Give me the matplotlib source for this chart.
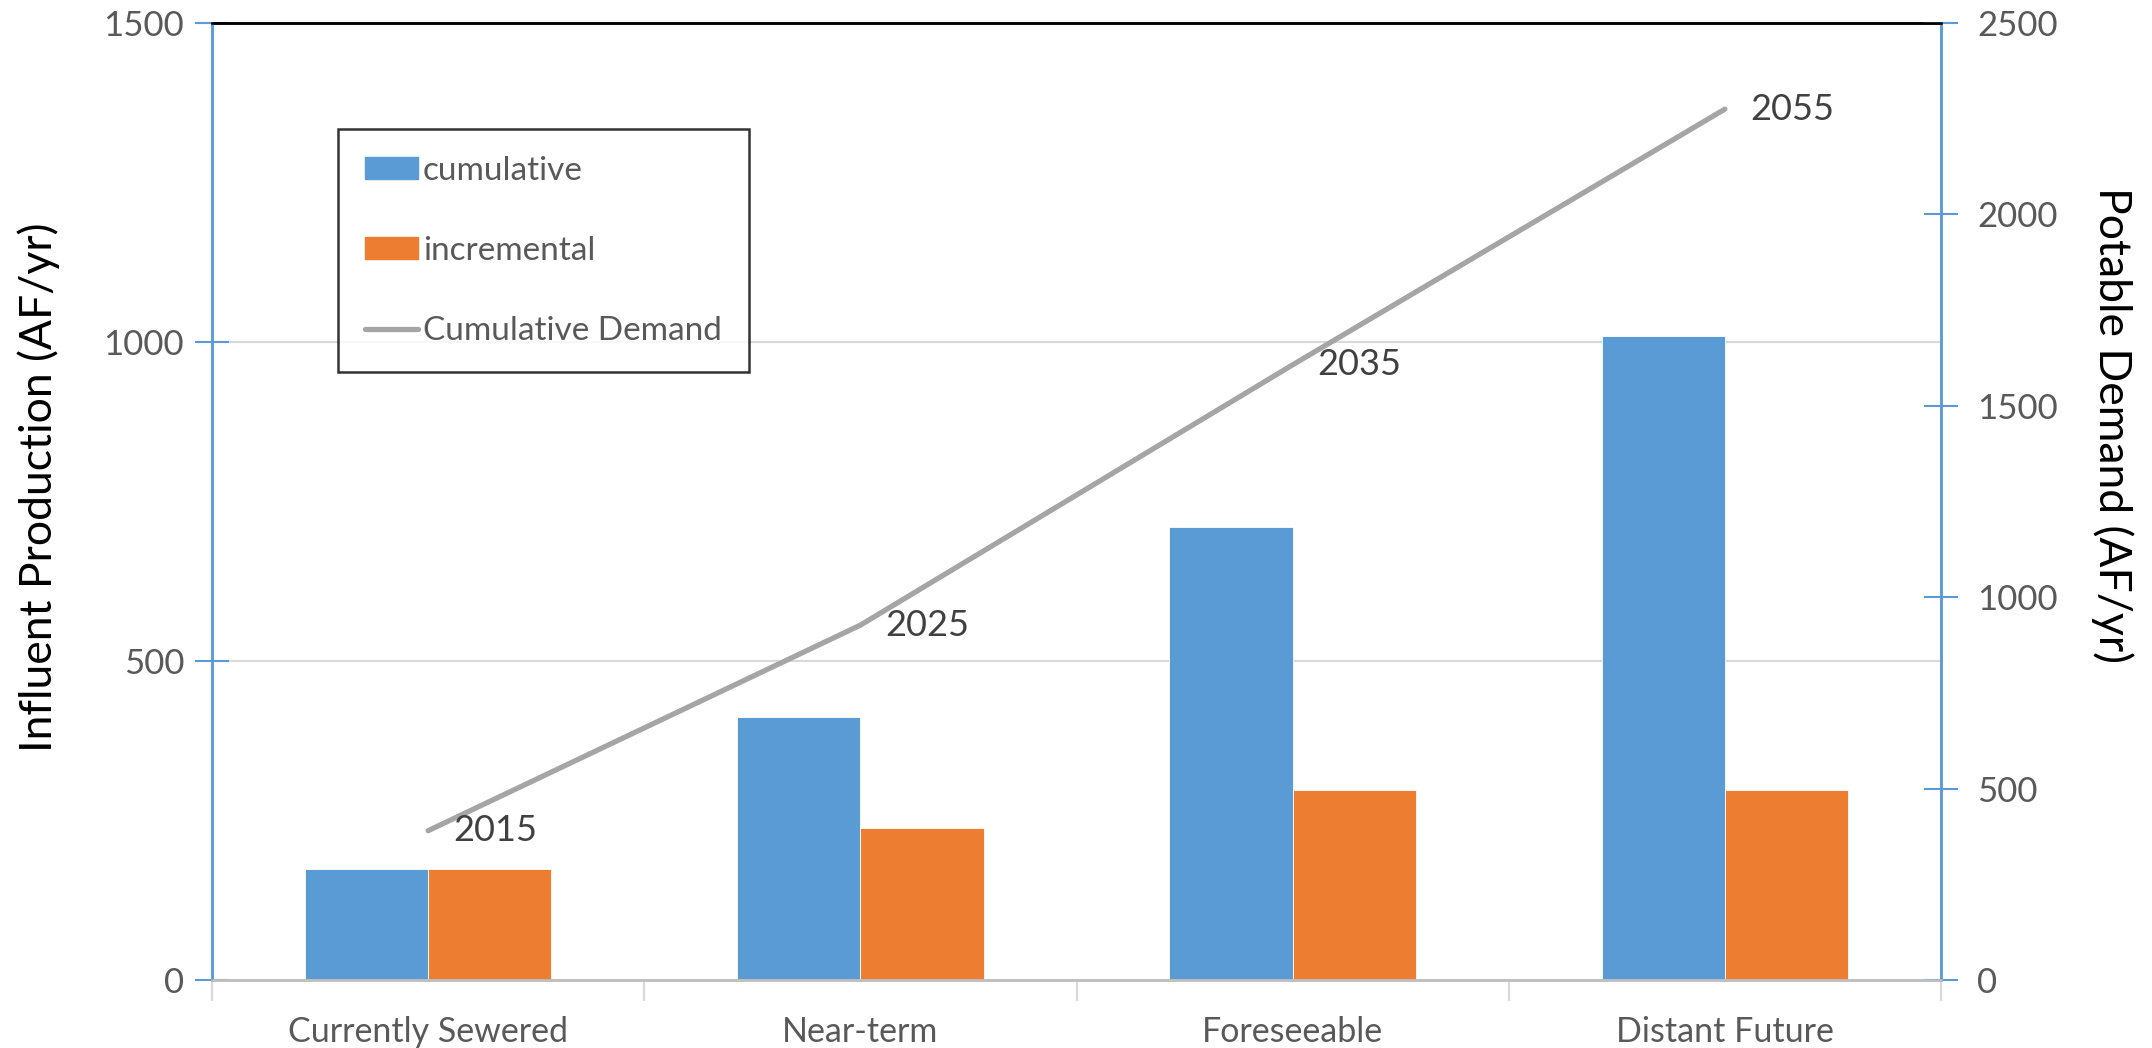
import matplotlib.pyplot as plt
from matplotlib.lines import Line2D
from matplotlib.patches import Patch
import numpy as np

plt.rcParams['font.family'] = ['Lato', 'DejaVu Sans']

categories = ["Currently Sewered", "Near-term", "Foreseeable", "Distant Future"]
cumulative = [174, 412, 710, 1009]
incremental = [174, 238, 298, 298]
demand = [390, 927, 1607, 2275]
years = ["2015", "2025", "2035", "2055"]

blue = "#5B9BD5"
orange = "#ED7D31"
gray = "#A5A5A5"
tick_col = "#595959"

fig = plt.figure(figsize=(21.52, 10.48), dpi=100)
ax = fig.add_axes([212/2152, 1-980/1048, 1729/2152, 957/1048])
ax2 = ax.twinx()

x = np.arange(len(categories))
w = 0.285
ax.bar(x - w/2, cumulative, w, color=blue, edgecolor="white", linewidth=0.6, zorder=2)
ax.bar(x + w/2, incremental, w, color=orange, edgecolor="white", linewidth=0.6, zorder=2)

ax2.plot(x, demand, color=gray, lw=3.8, solid_capstyle="round", solid_joinstyle="round")
for xi, yi, lab in zip(x, demand, years):
    ax2.annotate(lab, (xi, yi), xytext=(18, 0), textcoords="offset points",
                 ha="left", va="center", fontsize=26, color="#404040")

ax.set_xlim(-0.5, 3.5)
ax.set_ylim(0, 1500)
ax2.set_ylim(0, 2500)
ax.set_yticks([0, 500, 1000, 1500])
ax2.set_yticks([0, 500, 1000, 1500, 2000, 2500])

ax.set_xticks(np.arange(-0.5, 4, 1))
ax.set_xticklabels([])
ax.set_xticks(x, minor=True)
ax.set_xticklabels(categories, minor=True)
ax.tick_params(axis="x", which="major", length=15, width=1.5, color="#D9D9D9", direction="out")
ax.tick_params(axis="x", which="minor", length=0, pad=26, labelsize=24.5, labelcolor=tick_col)

ax.tick_params(axis="y", direction="inout", length=24, width=1.5, color=blue,
               labelsize=25, labelcolor=tick_col, pad=8)
ax2.tick_params(axis="y", direction="inout", length=24, width=1.5, color=blue,
                labelsize=25, labelcolor=tick_col, pad=14)

ax.grid(axis="y", color="#D9D9D9", lw=1.5, zorder=0)
ax.set_axisbelow(True)

for a in (ax, ax2):
    a.spines["left"].set_color(blue)
    a.spines["right"].set_color(blue)
    a.spines["left"].set_linewidth(1.8)
    a.spines["right"].set_linewidth(1.8)
    a.spines["top"].set_color("black")
    a.spines["top"].set_linewidth(1.8)
    a.spines["bottom"].set_color("#BFBFBF")
    a.spines["bottom"].set_linewidth(1.8)

ax.set_ylabel("Influent Production (AF/yr)", fontsize=32)
ax.yaxis.set_label_coords(-0.088, 0.515)
ax2.set_ylabel("Potable Demand (AF/yr)", fontsize=32, rotation=270, va="bottom")
ax2.yaxis.set_label_coords(1.087, 0.58)

handles = [Patch(color=blue, label="cumulative"),
           Patch(color=orange, label="incremental"),
           Line2D([0], [0], color=gray, lw=3.8, solid_capstyle="round", label="Cumulative Demand")]
leg = ax2.legend(handles=handles, loc="upper left", bbox_to_anchor=(338/2152, 1-129/1048),
                 bbox_transform=fig.transFigure, fontsize=24, frameon=True, fancybox=False,
                 handlelength=1.6, handleheight=0.6, handletextpad=0.15, labelspacing=1.5,
                 borderpad=0.8, borderaxespad=0)
leg.get_frame().set_edgecolor("black")
leg.get_frame().set_linewidth(1.8)
for t in leg.get_texts():
    t.set_color(tick_col)

fig.savefig("out.png", dpi=100)
